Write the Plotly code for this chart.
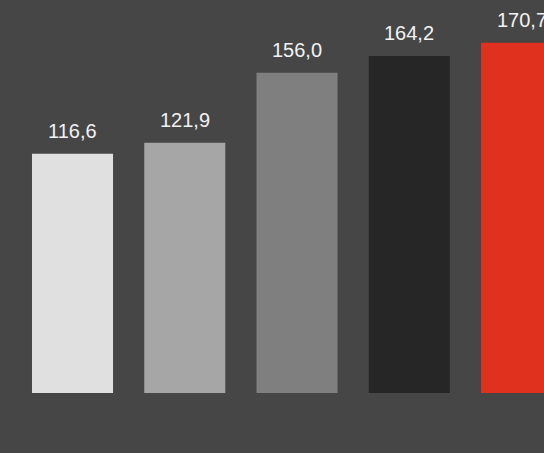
import plotly.graph_objects as go

# Index values per category
categories = ["A", "B", "C", "D", "E"]
values = [116.6, 121.9, 156.0, 164.2, 170.7]
labels = ["116,6", "121,9", "156,0", "164,2", "170,7"]
colors = ["#e0e0e0", "#a6a6a6", "#7f7f7f", "#262626", "#e0311f"]

bg = "#464646"
xs = list(range(len(categories)))

fig = go.Figure(
    go.Bar(
        x=xs,
        y=values,
        marker=dict(color=colors, line=dict(width=0)),
        width=0.722,
        hoverinfo="skip",
    )
)

for x, v, t in zip(xs, values, labels):
    fig.add_annotation(
        x=x, y=v, text=t, showarrow=False,
        xanchor="center", yanchor="bottom", yshift=10,
        font=dict(family="Liberation Sans, Arial, sans-serif", size=20, color="#f2f2f2"),
    )

fig.update_layout(
    width=544, height=453,
    margin=dict(l=0, r=0, t=0, b=60),
    paper_bgcolor=bg, plot_bgcolor=bg,
    showlegend=False,
    xaxis=dict(range=[-0.646, 4.2], showgrid=False, zeroline=False,
               showticklabels=False, ticks=""),
    yaxis=dict(range=[0, 191.5], showgrid=False, zeroline=False,
               showticklabels=False, ticks=""),
)

fig.write_html("out.html")
